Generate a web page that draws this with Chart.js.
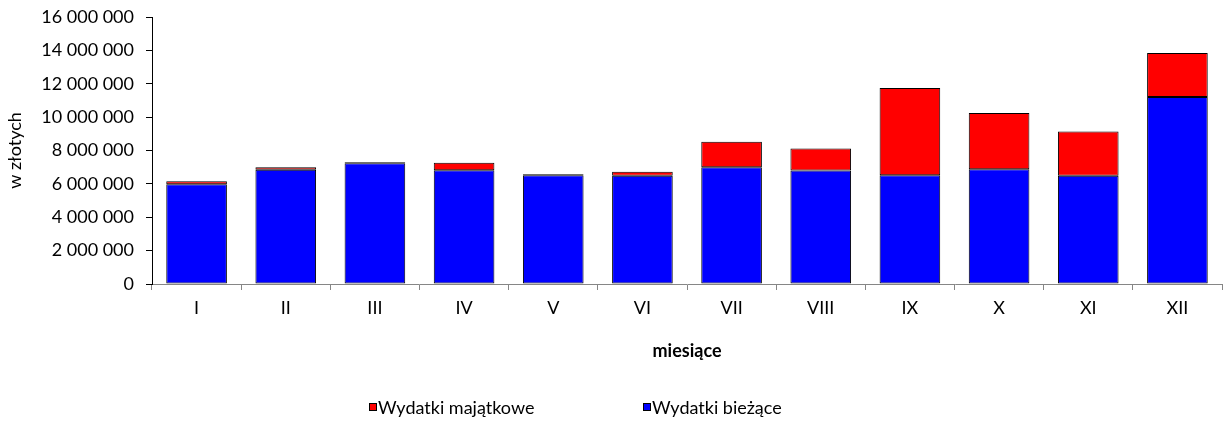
<!DOCTYPE html>
<html>
<head>
<meta charset="utf-8">
<script src="https://cdn.jsdelivr.net/npm/chart.js@4"></script>
<style>
  html, body { margin: 0; padding: 0; background: #fff; }
  #wrap { position: relative; width: 1229px; height: 423px; }
  .leg { position: absolute; top: 396px; height: 22px; line-height: 22px; font: 18px Lato, "Open Sans", sans-serif; color: #000; white-space: nowrap; }
  .leg i { position: absolute; left: 0; top: 7px; width: 6px; height: 6px; border: 1px solid #000; }
  .leg span { position: absolute; left: 9px; top: 0; }
</style>
</head>
<body>
<div id="wrap">
  <canvas id="chart" width="1229" height="423"></canvas>
  <div class="leg" style="left:369px"><i style="background:#ff0000"></i><span>Wydatki majątkowe</span></div>
  <div class="leg" style="left:643px"><i style="background:#0000ff"></i><span>Wydatki bieżące</span></div>
</div>
<script>
// months (Roman numerals) and monthly spending, in PLN
const months   = ['I', 'II', 'III', 'IV', 'V', 'VI', 'VII', 'VIII', 'IX', 'X', 'XI', 'XII'];
const biezace  = [5980000, 6850000, 7240000, 6820000, 6520000, 6480000, 7000000, 6800000, 6520000, 6880000, 6480000, 11200000];
const majatkowe = [180000, 150000, 50000, 440000, 50000, 240000, 1520000, 1320000, 5220000, 3360000, 2660000, 2640000];
const yTicks   = [0, 2000000, 4000000, 6000000, 8000000, 10000000, 12000000, 14000000, 16000000];

const FONT = 'Lato, "Open Sans", sans-serif';

function fmt(v) {
  return String(v).replace(/\B(?=(\d{3})+(?!\d))/g, ' ');
}

const ctx = document.getElementById('chart').getContext('2d');
new Chart(ctx, {
  type: 'bar',
  data: {
    labels: months,
    datasets: [
      {
        label: 'Wydatki bieżące',
        data: biezace,
        backgroundColor: '#0000ff',
        borderColor: '#000',
        borderWidth: 1,
        borderSkipped: false
      },
      {
        label: 'Wydatki majątkowe',
        data: majatkowe,
        backgroundColor: '#ff0000',
        borderColor: '#000',
        borderWidth: 1,
        borderSkipped: false
      }
    ]
  },
  options: {
    responsive: false,
    animation: false,
    layout: { padding: { top: 17, right: 7, bottom: 61, left: 0 } },
    datasets: { bar: { categoryPercentage: 1, barPercentage: 0.68 } },
    plugins: {
      legend: { display: false },
      tooltip: { enabled: false }
    },
    scales: {
      x: {
        stacked: true,
        offset: true,
        afterFit: s => { s.height = 78; },
        border: { color: '#868686', width: 1 },
        grid: { offset: true, drawOnChartArea: false, drawTicks: true, tickLength: 6, color: '#868686' },
        ticks: { color: '#000', padding: 7, maxRotation: 0, font: { family: FONT, size: 18 } },
        title: {
          display: true, text: 'miesiące', color: '#000',
          padding: { top: 0, bottom: 0 },
          font: { family: FONT, size: 18, weight: 'bold' }
        }
      },
      y: {
        stacked: true,
        min: 0,
        max: 16000000,
        afterFit: s => { s.width = 152; s.paddingTop = 0; },
        afterBuildTicks: s => { s.ticks = yTicks.map(v => ({ value: v })); },
        border: { color: '#000', width: 1 },
        grid: { drawOnChartArea: false, drawTicks: true, tickLength: 6, color: '#000' },
        ticks: { color: '#000', padding: 12, callback: v => fmt(v), font: { family: FONT, size: 18 } },
        title: {
          display: true, text: 'w złotych', color: '#000',
          padding: { top: 4, bottom: 0 },
          font: { family: FONT, size: 18 }
        }
      }
    }
  }
});
</script>
</body>
</html>
